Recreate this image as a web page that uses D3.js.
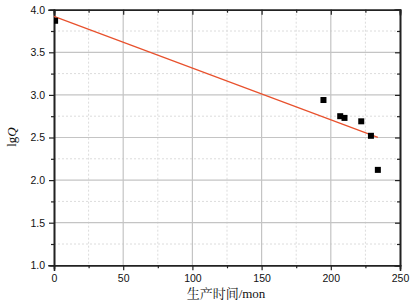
<!DOCTYPE html>
<html><head><meta charset="utf-8">
<script src="https://cdn.jsdelivr.net/npm/d3@7"></script>
<style>body{margin:0;background:#fff}svg{display:block}</style>
</head><body>
<svg id="c" width="411" height="304"></svg>
<script>
const months = [0.8, 194.7, 206.8, 209.9, 222, 229, 234];
const lgQ = [3.87, 2.94, 2.75, 2.73, 2.69, 2.52, 2.12];
const fitX = [0, 234];
const fitY = [3.922, 2.502];
const xTicks = [0, 50, 100, 150, 200, 250];
const yTicks = [1.0, 1.5, 2.0, 2.5, 3.0, 3.5, 4.0];

const svg = d3.select("#c");
const L = 54, R = 400, T = 9.7, B = 265.3;
const x = d3.scaleLinear().domain([0, 250]).range([L, R]);
const y = d3.scaleLinear().domain([1, 4]).range([B, T]);
const xMinor = d3.range(25, 250, 50);
const yMinor = d3.range(1.25, 4, 0.5);

// grid
const g = svg.append("g");
g.selectAll(".mnx").data(xMinor).join("line")
  .attr("x1", d => x(d)).attr("x2", d => x(d)).attr("y1", T).attr("y2", B)
  .attr("stroke", "#dcdcdc").attr("stroke-width", 1).attr("stroke-dasharray", "2,2");
g.selectAll(".mny").data(yMinor).join("line")
  .attr("y1", d => y(d)).attr("y2", d => y(d)).attr("x1", L).attr("x2", R)
  .attr("stroke", "#dcdcdc").attr("stroke-width", 1).attr("stroke-dasharray", "2,2");
g.selectAll(".mjx").data(xTicks.slice(1, -1)).join("line")
  .attr("x1", d => x(d)).attr("x2", d => x(d)).attr("y1", T).attr("y2", B)
  .attr("stroke", "#c4c4c4").attr("stroke-width", 1.2);
g.selectAll(".mjy").data(yTicks.slice(1, -1)).join("line")
  .attr("y1", d => y(d)).attr("y2", d => y(d)).attr("x1", L).attr("x2", R)
  .attr("stroke", "#c4c4c4").attr("stroke-width", 1.2);

// axes
const fmtY = d3.format(".1f");
const axL = d3.axisLeft(y).tickValues(yTicks).tickFormat(fmtY).tickSize(5).tickPadding(4);
const axB = d3.axisBottom(x).tickValues(xTicks).tickFormat(d3.format("d")).tickSize(5).tickPadding(4);
const axLm = d3.axisLeft(y).tickValues(yMinor).tickFormat("").tickSize(3);
const axBm = d3.axisBottom(x).tickValues(xMinor).tickFormat("").tickSize(3);
const axR = d3.axisLeft(y).tickValues(yTicks).tickFormat("").tickSize(5);
const axRm = d3.axisLeft(y).tickValues(yMinor).tickFormat("").tickSize(3);
const axT = d3.axisBottom(x).tickValues(xTicks).tickFormat("").tickSize(5);
const axTm = d3.axisBottom(x).tickValues(xMinor).tickFormat("").tickSize(3);

function style(sel) {
  sel.selectAll("path").attr("stroke", "#222").attr("stroke-width", 1.6);
  sel.selectAll("line").attr("stroke", "#222").attr("stroke-width", 1.2);
  sel.selectAll("text").attr("fill", "#111").style("font-family", "Liberation Sans, Arial, sans-serif").style("font-size", "10.5px");
}
style(svg.append("g").attr("transform", `translate(${L},0)`).call(axL));
style(svg.append("g").attr("transform", `translate(${L},0)`).call(axLm));
style(svg.append("g").attr("transform", `translate(0,${B})`).call(axB));
style(svg.append("g").attr("transform", `translate(0,${B})`).call(axBm));
style(svg.append("g").attr("transform", `translate(${R},0)`).call(axR));
style(svg.append("g").attr("transform", `translate(${R},0)`).call(axRm));
style(svg.append("g").attr("transform", `translate(0,${T})`).call(axT));
style(svg.append("g").attr("transform", `translate(0,${T})`).call(axTm));
svg.selectAll(".domain").attr("stroke-linecap", "square");

// fit line
const line = d3.line().x(d => x(d[0])).y(d => y(d[1]));
svg.append("path").datum(d3.zip(fitX, fitY)).attr("d", line)
  .attr("fill", "none").attr("stroke", "#e8512d").attr("stroke-width", 1.2);

// points
const s = 6;
svg.append("g").selectAll("rect").data(d3.zip(months, lgQ)).join("rect")
  .attr("x", d => Math.max(L, x(d[0]) - s / 2)).attr("y", d => y(d[1]) - s / 2)
  .attr("width", d => Math.min(s, x(d[0]) + s / 2 - L)).attr("height", s).attr("fill", "#000");

// labels
svg.append("text").attr("x", 226).attr("y", 298).attr("text-anchor", "middle")
  .style("font-family", "'Noto Serif CJK SC','Noto Sans CJK SC','Liberation Serif',serif").style("font-size", "13px")
  .attr("fill", "#111")
  .html('生产时间<tspan style="font-family:\'Liberation Serif\',serif">/mon</tspan>');
svg.append("text").attr("transform", "translate(16,137) rotate(-90)").attr("text-anchor", "middle")
  .style("font-family", "'Liberation Serif',serif").style("font-size", "13px").attr("fill", "#111")
  .html('lg<tspan font-style="italic">Q</tspan>');
</script>
</body></html>
